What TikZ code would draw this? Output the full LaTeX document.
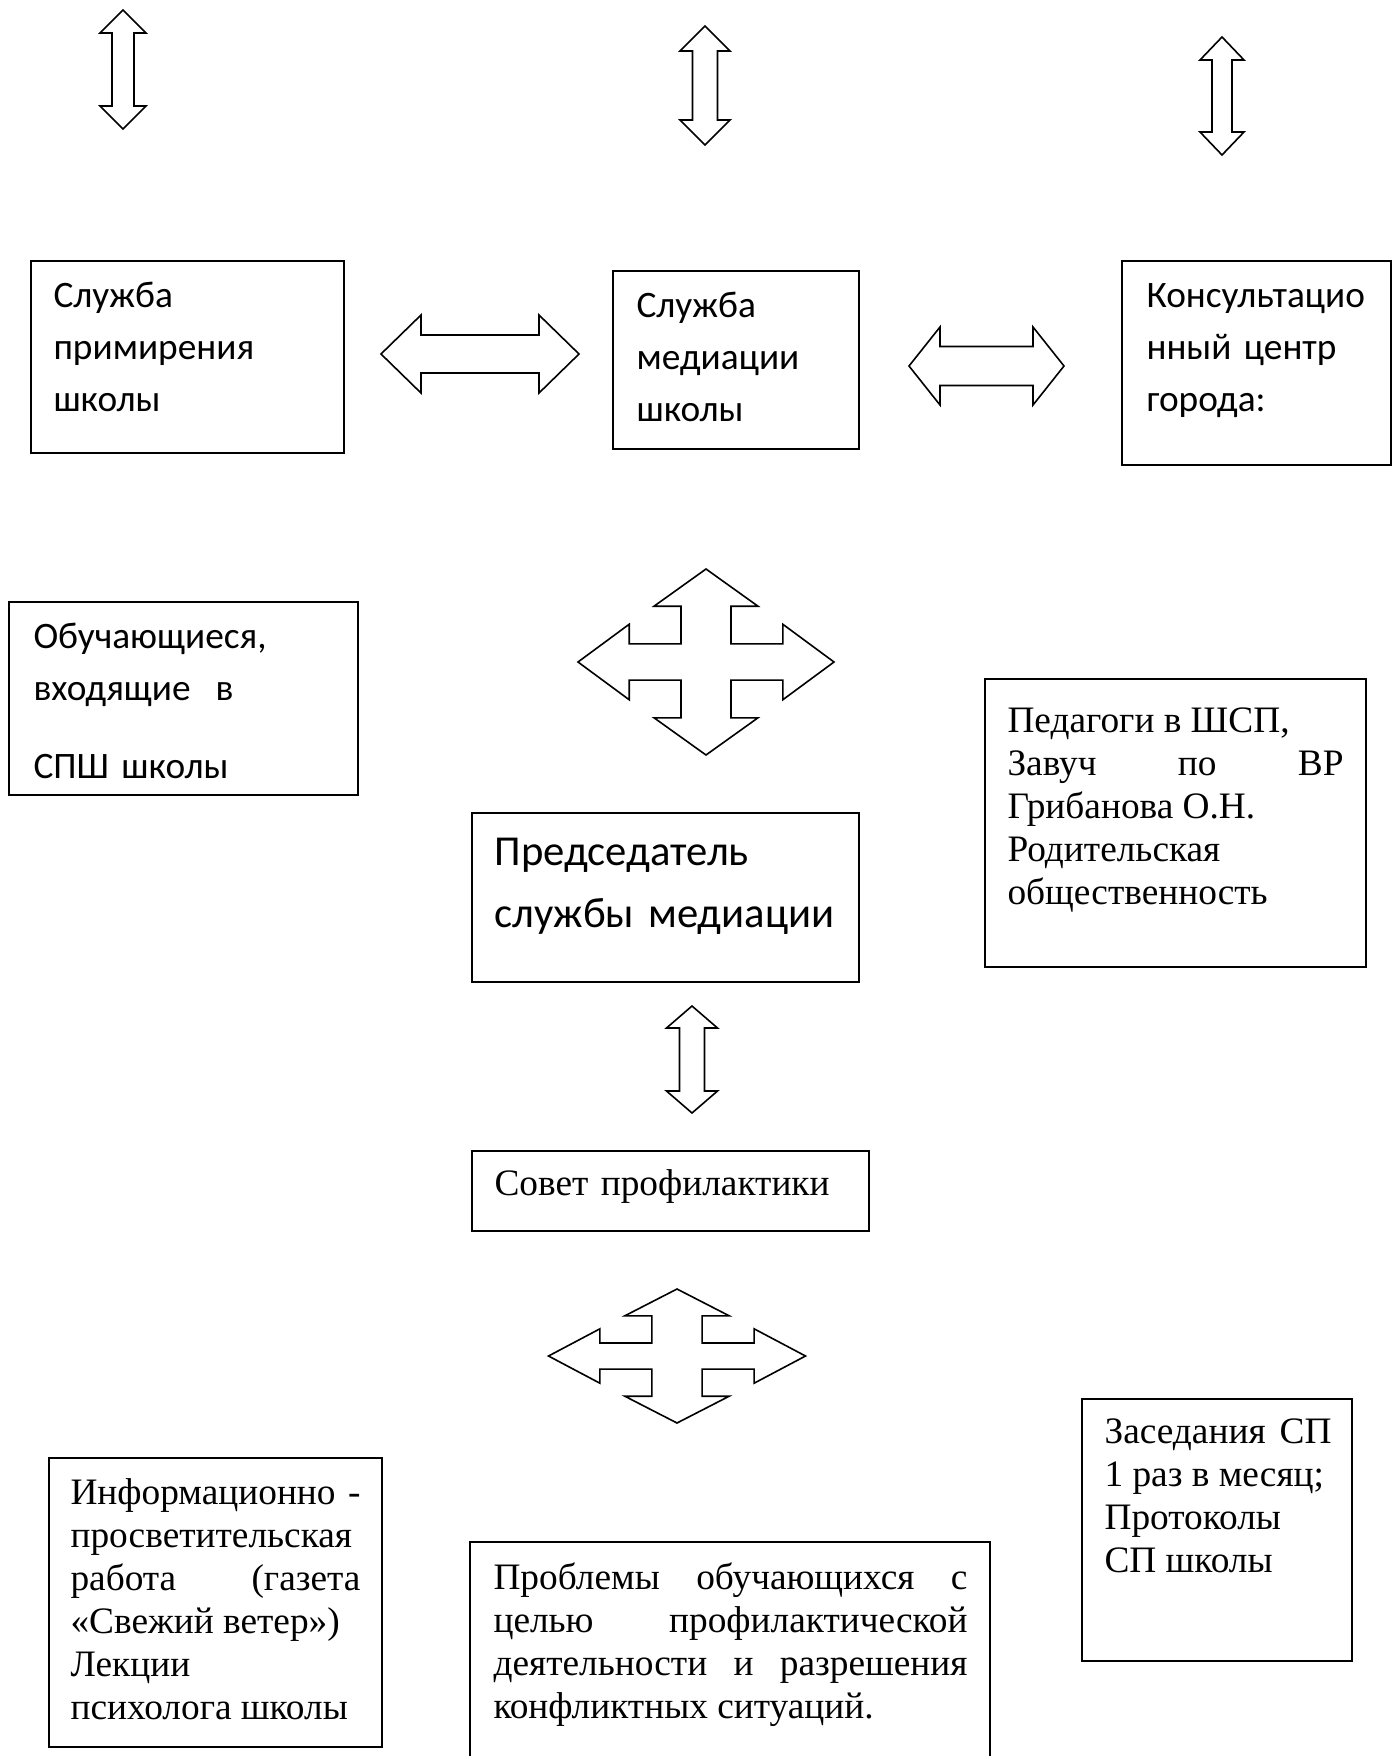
\documentclass[tikz,border=0pt]{standalone}
\usepackage{fontspec}
\setmainfont{Liberation Serif}
\newfontfamily\calibrifont{Carlito}
\usetikzlibrary{fit}
\tolerance=10000 \pretolerance=-1 \hyphenpenalty=10000 \exhyphenpenalty=10000 \hbadness=10000 \hfuzz=50pt

% vertical double block arrow: cx, top, bottom, head half-width, shaft half-width, head length
\newcommand\blockV[6]{%
  \draw[blockarrow] (#1,#2) -- ({#1+#4},{#2+#6}) -- ({#1+#5},{#2+#6}) -- ({#1+#5},{#3-#6})
    -- ({#1+#4},{#3-#6}) -- (#1,#3) -- ({#1-#4},{#3-#6}) -- ({#1-#5},{#3-#6})
    -- ({#1-#5},{#2+#6}) -- ({#1-#4},{#2+#6}) -- cycle;}
% horizontal double block arrow: cy, left, right, head half-height, shaft half-height, head length
\newcommand\blockH[6]{%
  \draw[blockarrow] (#2,#1) -- ({#2+#6},{#1-#4}) -- ({#2+#6},{#1-#5}) -- ({#3-#6},{#1-#5})
    -- ({#3-#6},{#1-#4}) -- (#3,#1) -- ({#3-#6},{#1+#4}) -- ({#3-#6},{#1+#5})
    -- ({#2+#6},{#1+#5}) -- ({#2+#6},{#1+#4}) -- cycle;}
% quad block arrow: cx, cy, width, height
\newcommand\blockQ[4]{%
  \pgfmathsetmacro\qaw{0.0975*#3}\pgfmathsetmacro\qah{0.0975*#4}%
  \pgfmathsetmacro\qhw{0.203*#3}\pgfmathsetmacro\qhh{0.203*#4}%
  \pgfmathsetmacro\qlv{0.2*#4}\pgfmathsetmacro\qlh{0.2*#3}%
  \pgfmathsetmacro\qhx{#3/2}\pgfmathsetmacro\qhy{#4/2}%
  \draw[blockarrow] (#1,{#2-\qhy}) -- ({#1+\qhw},{#2-\qhy+\qlv}) -- ({#1+\qaw},{#2-\qhy+\qlv})
    -- ({#1+\qaw},{#2-\qah}) -- ({#1+\qhx-\qlh},{#2-\qah}) -- ({#1+\qhx-\qlh},{#2-\qhh})
    -- ({#1+\qhx},#2) -- ({#1+\qhx-\qlh},{#2+\qhh}) -- ({#1+\qhx-\qlh},{#2+\qah})
    -- ({#1+\qaw},{#2+\qah}) -- ({#1+\qaw},{#2+\qhy-\qlv}) -- ({#1+\qhw},{#2+\qhy-\qlv})
    -- (#1,{#2+\qhy}) -- ({#1-\qhw},{#2+\qhy-\qlv}) -- ({#1-\qaw},{#2+\qhy-\qlv})
    -- ({#1-\qaw},{#2+\qah}) -- ({#1-\qhx+\qlh},{#2+\qah}) -- ({#1-\qhx+\qlh},{#2+\qhh})
    -- ({#1-\qhx},#2) -- ({#1-\qhx+\qlh},{#2-\qhh}) -- ({#1-\qhx+\qlh},{#2-\qah})
    -- ({#1-\qaw},{#2-\qah}) -- ({#1-\qaw},{#2-\qhy+\qlv}) -- ({#1-\qhw},{#2-\qhy+\qlv}) -- cycle;}

\begin{document}
\begin{tikzpicture}[x=0.375pt, y=-0.375pt,
  box/.style={draw=black, line width=0.75pt, inner sep=0pt},
  blockarrow/.style={draw=black, fill=white, line width=0.6pt, line join=miter},
  sanstext/.style={font=\calibrifont\fontsize{14}{19.5}\selectfont, anchor=base west, inner sep=0pt, align=left},
  seriftext/.style={font=\fontsize{14}{16.125}\selectfont, anchor=base west, inner sep=0pt}]

\path[use as bounding box, fill=white] (0,0) rectangle (1394,1756);

% top vertical arrows
\blockV{123}{10}{129}{23}{11}{23}
\blockV{705}{26}{145}{25}{12.5}{25}
\blockV{1222}{37}{155}{22}{10}{23}

% first row of boxes
\node[box, fit={(31,261) (344,453)}] (b1) {};
\node[box, fit={(613,271) (859,449)}] (b2) {};
\node[box, fit={(1122,261) (1391,465)}] (b3) {};
\node[sanstext, text width=108pt] (t1) at (53,307) {Служба\\примирения\\школы};
\node[sanstext, text width=80pt] (t2) at (636,317) {Служба\\медиации\\школы};
\node[sanstext, text width=92pt] (t3) at (1146,307) {Консультацио\\нный центр\\города:};

\blockH{354}{381}{579}{39}{19}{40}
\blockH{366}{909}{1064}{39}{19.5}{31}

% second row
\blockQ{706}{662}{256}{186}
\node[box, fit={(9,602) (358,795)}] (b4) {};
\node[sanstext, text width=120pt] (t4) at (33,648) {Обучающиеся,\\входящие\ \ в\\[9.75pt]СПШ школы};

\node[box, fit={(985,679) (1366,967)}] (b5) {};
\node[seriftext, text width=126pt, align=justify] (t5) at (1007,732)
  {Педагоги в ШСП,\\Завуч по ВР\linebreak Грибанова О.Н.\\Родительская\\общественность};

\node[box, fit={(472,813) (859,982)}] (b6) {};
\node[sanstext, font=\calibrifont\fontsize{16}{23.25}\selectfont, text width=136pt] (t6) at (494,865)
  {Председатель\\службы медиации};

\blockV{692}{1006}{1113}{25.5}{12.5}{22}

\node[box, fit={(472,1151) (869,1231)}] (b7) {};
\node[seriftext, text width=140pt] (t7) at (494,1195) {Совет профилактики};

\blockQ{677}{1356}{257}{134}

% bottom boxes
\node[box, fit={(1082,1399) (1352,1661)}] (b8) {};
\node[seriftext, text width=85.1pt, align=justify] (t8) at (1104,1443)
  {Заседания СП\linebreak 1 раз в месяц;\\Протоколы\\СП школы};

\node[box, fit={(49,1458) (382,1747)}] (b9) {};
\node[seriftext, text width=108.75pt, align=justify] (t9) at (70,1504)
  {Информационно -\linebreak просветительская\\работа (газета\linebreak «Свежий ветер»)\\Лекции\\психолога школы};

\node[box, draw=none, fit={(471,1543) (989,1800)}] (b10) {};
\draw[line width=0.75pt] (b10.south west) -- (b10.north west) -- (b10.north east) -- (b10.south east);
\node[seriftext, text width=177.75pt, align=justify] (t10) at (493,1589)
  {Проблемы обучающихся с\linebreak целью профилактической\linebreak деятельности и разрешения\linebreak конфликтных ситуаций.};

\end{tikzpicture}
\end{document}
